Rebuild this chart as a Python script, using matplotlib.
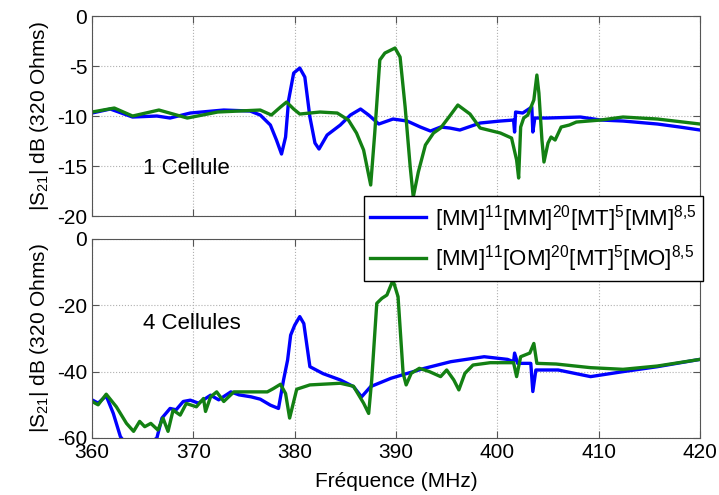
import numpy as np
import matplotlib.pyplot as plt

plt.rcParams['font.family'] = ['Liberation Sans', 'DejaVu Sans']
plt.rcParams['mathtext.fontset'] = 'custom'
plt.rcParams['mathtext.rm'] = 'Liberation Sans'
plt.rcParams['axes.unicode_minus'] = False

# --- 1 cellule (top) ---
f1_mm = [360, 361.8, 364, 366.4, 367.7, 369.7, 373, 375.6, 376.6, 377.6, 378.2, 378.7,
         379.1, 379.4, 379.9, 380.5, 381.0, 381.5, 382.0, 382.4, 383.2, 384.5, 385.5,
         386.5, 387.3, 388.3, 389.7, 391.1, 392.4, 393.4, 394.4, 395.3, 396.3, 398.3,
         400.3, 401.6, 401.7, 401.8, 402.5, 403.4, 403.5, 403.7, 404.9, 408.2, 410.2,
         412.4, 415.8, 418, 420]
s1_mm = [-9.7, -9.3, -10.1, -10.0, -10.2, -9.7, -9.4, -9.5, -9.9, -10.9, -12.4, -13.8,
         -12.1, -8.4, -5.7, -5.2, -6.1, -10.1, -12.7, -13.3, -11.9, -10.9, -9.9,
         -9.3, -9.9, -10.8, -10.3, -10.5, -11.1, -11.5, -11.1, -11.2, -11.4, -10.7,
         -10.5, -10.4, -11.6, -9.6, -9.7, -9.1, -11.6, -10.2, -10.2, -10.1, -10.4,
         -10.5, -10.8, -11.1, -11.4]

f1_om = [360, 362.2, 364, 366.6, 369.4, 372.4, 376.6, 377.7, 378.6, 379.2, 379.9, 380.5,
         382.5, 384.2, 385.3, 386.1, 386.8, 387.5, 387.9, 388.4, 388.9, 389.9, 390.4,
         390.9, 391.4, 391.7, 392.2, 392.9, 393.7, 394.4, 395.3, 396.1, 397.3, 398.3,
         400.3, 401.4, 401.9, 402.1, 402.3, 402.6, 403.0, 403.6, 403.9, 404.1, 404.4,
         404.6, 405.0, 405.3, 405.7, 406.3, 407.1, 407.8, 410.2, 412.4, 415.8, 420]
s1_om = [-9.6, -9.2, -10.0, -9.4, -10.2, -9.6, -9.4, -9.9, -9.1, -8.6, -9.3, -9.8,
         -9.6, -9.7, -10.4, -11.7, -13.4, -16.9, -11.7, -4.4, -3.7, -3.2, -4.1,
         -9.1, -15.1, -18.1, -15.6, -12.9, -11.7, -11.2, -10.0, -8.9, -9.8, -11.2,
         -11.7, -12.2, -14.4, -16.2, -11.1, -10.2, -9.9, -8.4, -5.9, -7.7, -12.4,
         -14.6, -12.7, -12.1, -12.4, -11.1, -10.9, -10.6, -10.4, -10.1, -10.3, -10.8]

# --- 4 cellules (bottom) ---
f4_mm = [360, 360.6, 361.4, 362.1, 362.8, 363.4, 364.5, 365.5, 366.4, 366.9, 367.7,
         368.3, 369, 369.7, 370.5, 371.7, 372.5, 373.7, 374.5, 375.7, 376.6, 377.6,
         378.4, 378.9, 379.3, 379.6, 380.0, 380.5, 380.9, 381.5, 382.8, 384.5, 385.8,
         386.6, 387.5, 389.5, 392.8, 395.4, 398.7, 401.0, 401.6, 401.7, 402.0, 403.3,
         403.5, 403.8, 406, 409.2, 412.4, 415.8, 420]
s4_mm = [-48.5, -49.5, -47.3, -52.6, -59.6, -62, -63, -62, -60, -54, -51.1,
         -51.5, -49, -48.6, -49.5, -47.1, -48.5, -46.1, -47, -47.6, -48.3, -50.1,
         -51.1, -42.5, -36.5, -29, -26, -23.4, -25.5, -38.5, -40.6, -42.5, -44.5,
         -47.6, -44.5, -42, -39, -37, -35.5, -36.3, -37, -34.4, -37.5, -37.5,
         -46, -39.5, -39.5, -41.5, -40, -38.5, -36.3]

f4_om = [360, 360.6, 361.4, 362.4, 363.4, 364.1, 364.7, 365.2, 365.8, 366.5, 367.0,
         367.5, 368.0, 368.7, 369.3, 370.3, 371.0, 371.2, 371.7, 372.3, 373, 374,
         375.7, 377.3, 377.9, 378.6, 379.1, 379.5, 380.2, 381.5, 384.5, 385.8, 386.8,
         387.3, 387.6, 388.1, 388.6, 389.1, 389.7, 390.2, 390.7, 391.0, 391.5, 392.3,
         393.3, 394.4, 395.0, 395.7, 396.2, 396.8, 397.6, 399.3, 401.6, 401.9, 402.3,
         403.2, 403.6, 403.9, 405.8, 409.2, 412.4, 415.8, 420]
s4_om = [-49, -50, -46.8, -50.6, -55.6, -58, -55, -56.6, -55.6, -57.6, -54,
         -58, -51.6, -53.1, -49.6, -50.6, -48.1, -52, -47.6, -46.1, -49, -46.1,
         -46.1, -46.1, -45.1, -43.8, -46.6, -54, -45.3, -44, -43.5, -44.4, -49.5,
         -52.6, -42.5, -19.4, -17.9, -16.9, -12.4, -17.4, -40.5, -44, -40.5, -39,
         -40, -41.5, -39.5, -42.5, -45.5, -40.5, -38, -37.3, -37.3, -41.5, -35.5,
         -34.4, -31.5, -37.5, -37.7, -38.8, -39.3, -38.3, -36.3]

labels = [r'[MM]$^{11}$[MM]$^{20}$[MT]$^{5}$[MM]$^{8{,}5}$',
          r'[MM]$^{11}$[OM]$^{20}$[MT]$^{5}$[MO]$^{8{,}5}$']

blue = '#0000ff'
green = '#138013'

fig = plt.figure(figsize=(7.19, 4.95), dpi=100)
ax1 = fig.add_axes([0.128, 0.5636, 0.8456, 0.404])
ax2 = fig.add_axes([0.128, 0.1152, 0.8456, 0.402])

l1, = ax1.plot(f1_mm, s1_mm, color=blue, lw=2.4)
l2, = ax1.plot(f1_om, s1_om, color=green, lw=2.4)
ax2.plot(f4_mm, s4_mm, color=blue, lw=2.4)
ax2.plot(f4_om, s4_om, color=green, lw=2.4)

ax1.set_ylim(-20, 0)
ax1.set_yticks([-20, -15, -10, -5, 0])
ax2.set_ylim(-60, 0)
ax2.set_yticks([-60, -40, -20, 0])

for ax in (ax1, ax2):
    ax.set_xlim(360, 420)
    ax.set_xticks([360, 370, 380, 390, 400, 410, 420])
    ax.grid(True, linestyle=':', color='#b0b0b0', lw=0.8)
    ax.tick_params(direction='in', top=True, right=True, labelsize=15,
                   color='#555555', length=5)
    for sp in ax.spines.values():
        sp.set_color('#555555')
    ax.set_ylabel(r'|S$_{21}$| dB (320 Ohms)', fontsize=15, labelpad=4)
ax1.tick_params(labelbottom=False)

ax1.text(365, -15.2, '1 Cellule', fontsize=16, va='center')
ax2.text(365, -25.4, '4 Cellules', fontsize=16, va='center')
ax2.set_xlabel('Fréquence (MHz)', fontsize=15, labelpad=7)

leg = fig.legend([l1, l2], labels, loc='upper right', bbox_to_anchor=(0.978, 0.604),
                 fontsize=16, frameon=True, fancybox=False, edgecolor='black',
                 framealpha=1, handlelength=2.5, borderpad=0.3, labelspacing=0.45,
                 handletextpad=0.4, borderaxespad=0)
leg.get_frame().set_linewidth(1.0)
leg.set_zorder(10)

fig.savefig('out.png', dpi=100)
